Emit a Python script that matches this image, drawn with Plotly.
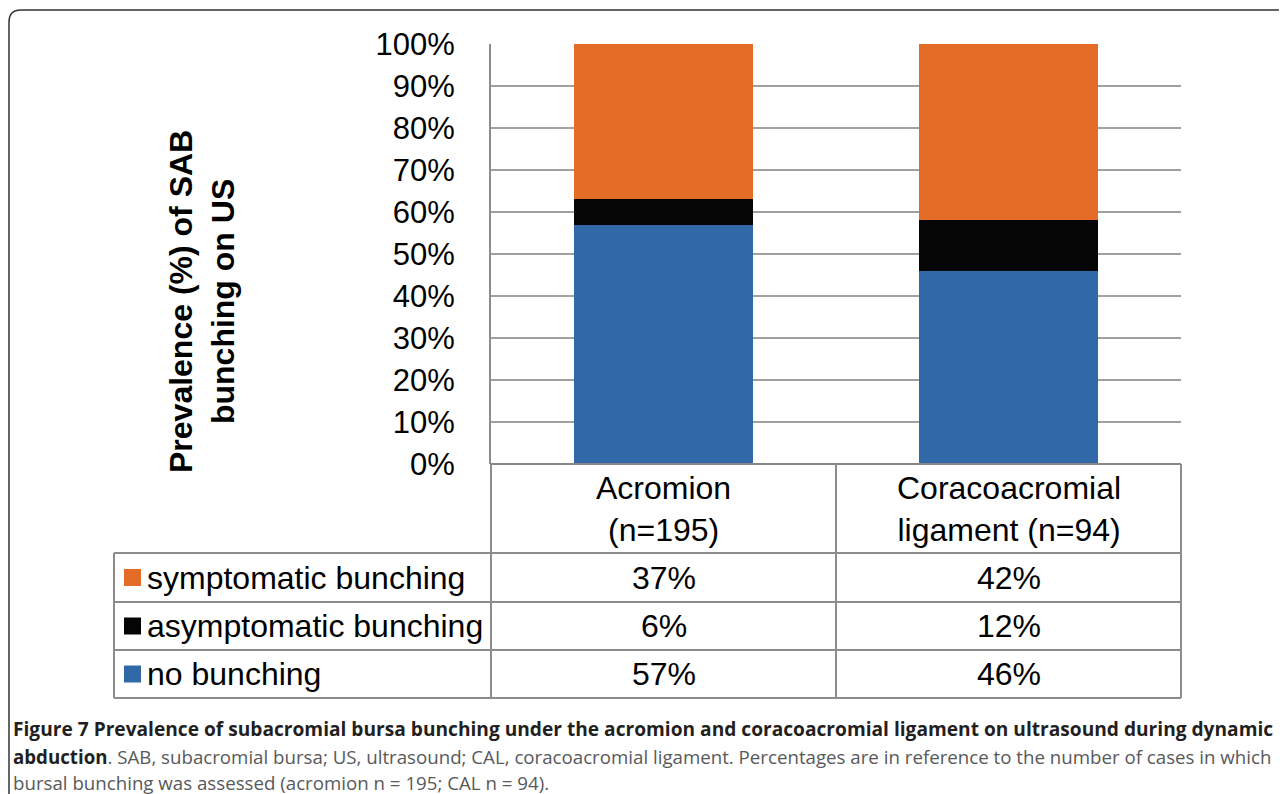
import plotly.graph_objects as go

# ---- data ----
categories = ["Acromion (n=195)", "Coracoacromial ligament (n=94)"]
category_labels = ["Acromion<br>(n=195)", "Coracoacromial<br>ligament (n=94)"]
series_names = ["symptomatic bunching", "asymptomatic bunching", "no bunching"]
symptomatic = [37, 42]
asymptomatic = [6, 12]
no_bunching = [57, 46]
y_ticks = [0, 10, 20, 30, 40, 50, 60, 70, 80, 90, 100]

W, H = 1287, 794
OFF = 8  # page body margin
def px(x):
    return (x - OFF) / W
def py(y):
    return 1 - (y - OFF) / H

FONT = "Liberation Sans, Arial, sans-serif"
CAP_FONT = "Open Sans, sans-serif"
ORANGE = "#E46C27"
BLACK = "#050505"
BLUE = "#3169A8"
GRID = "#A0A0A0"
TABLE = "#8C8C8C"
FS = 32

# plot area in pixels
X0, X1 = 491, 1181
Y_TOP, Y_BOT = 44, 464

fig = go.Figure()
fig.add_trace(go.Bar(x=[0, 1], y=no_bunching, name=series_names[2], marker=dict(color=BLUE, line=dict(width=0)), width=0.516))
fig.add_trace(go.Bar(x=[0, 1], y=asymptomatic, name=series_names[1], marker=dict(color=BLACK, line=dict(width=0)), width=0.516))
fig.add_trace(go.Bar(x=[0, 1], y=symptomatic, name=series_names[0], marker=dict(color=ORANGE, line=dict(width=0)), width=0.516))

fig.update_layout(
    width=W, height=H,
    margin=dict(l=0, r=0, t=0, b=0, pad=0, autoexpand=False),
    paper_bgcolor="white", plot_bgcolor="white",
    barmode="stack", showlegend=False,
    xaxis=dict(domain=[px(X0), px(X1)], range=[-0.5, 1.5], showticklabels=False,
               showgrid=False, zeroline=False, showline=False, ticks="", automargin=False),
    yaxis=dict(domain=[py(Y_BOT), py(Y_TOP)], range=[0, 100], tickvals=y_ticks,
               ticktext=[f"{v}%" for v in y_ticks], ticks="", ticklabelstandoff=28,
               tickfont=dict(family=FONT, size=31, color="black"), automargin=False,
               showgrid=True, gridcolor=GRID, gridwidth=2,
               showline=True, linecolor=TABLE, linewidth=2, zeroline=False),
    font=dict(family=FONT),
)

shapes = []
def hline(y, xa, xb, color=TABLE, w=2):
    shapes.append(dict(type="line", xref="paper", yref="paper", x0=px(xa), x1=px(xb),
                       y0=py(y), y1=py(y), line=dict(color=color, width=w), layer="above"))
def vline(x, ya, yb, color=TABLE, w=2):
    shapes.append(dict(type="line", xref="paper", yref="paper", x0=px(x), x1=px(x),
                       y0=py(ya), y1=py(yb), line=dict(color=color, width=w), layer="above"))

# table grid
hline(Y_BOT, X0, X1, color="#888888")
row_tops = [553, 602, 650, 698]
for y in row_tops:
    hline(y, 114, X1)
vline(114, 553, 698)
vline(X0, Y_BOT, 698)
vline(836, Y_BOT, 698)
vline(X1, Y_BOT, 698)

# legend keys
key_colors = [ORANGE, BLACK, BLUE]
annotations = []
for i, (name, col) in enumerate(zip(series_names, key_colors)):
    yc = (row_tops[i] + row_tops[i + 1]) / 2
    shapes.append(dict(type="rect", xref="paper", yref="paper", x0=px(124), x1=px(141),
                       y0=py(yc + 8.5), y1=py(yc - 8.5), fillcolor=col, line=dict(width=0)))
    annotations.append(dict(xref="paper", yref="paper", x=px(145), y=py(yc), text=name,
                            showarrow=False, xanchor="left", yanchor="middle",
                            font=dict(family=FONT, size=FS, color="black")))

# table values
col_centers = [663.5, 1008.5]
table_rows = [symptomatic, asymptomatic, no_bunching]
for i, vals in enumerate(table_rows):
    yc = (row_tops[i] + row_tops[i + 1]) / 2
    for xc, v in zip(col_centers, vals):
        annotations.append(dict(xref="paper", yref="paper", x=px(xc), y=py(yc), text=f"{v}%",
                                showarrow=False, xanchor="center", yanchor="middle",
                                font=dict(family=FONT, size=FS, color="black")))

# category labels
for xc, lab in zip(col_centers, category_labels):
    annotations.append(dict(xref="paper", yref="paper", x=px(xc), y=py(509), text=lab,
                            showarrow=False, xanchor="center", yanchor="middle",
                            font=dict(family=FONT, size=FS, color="black")))

# y axis title
annotations.append(dict(xref="paper", yref="paper", x=px(202), y=py(302),
                        text="<b>Prevalence (%) of SAB<br>bunching on US</b>", textangle=-90,
                        showarrow=False, xanchor="center", yanchor="middle",
                        font=dict(family=FONT, size=FS, color="black")))

# caption
cap_bold = "#231F20"
cap_norm = "#58595B"
cap_lines = [
    ("<b>Figure 7 Prevalence of subacromial bursa bunching under the acromion and coracoacromial ligament on ultrasound during dynamic</b>", 19.15),
    ("<b>abduction</b><span style='color:%s'>. SAB, subacromial bursa; US, ultrasound; CAL, coracoacromial ligament. Percentages are in reference to the number of cases in which</span>" % cap_norm, 18.7),
    ("<span style='color:%s'>bursal bunching was assessed (acromion n = 195; CAL n = 94).</span>" % cap_norm, 18.7),
]
for y, (t, fs) in zip([729, 756, 782], cap_lines):
    annotations.append(dict(xref="paper", yref="paper", x=px(11), y=py(y), text=t,
                            showarrow=False, xanchor="left", yanchor="middle",
                            font=dict(family=CAP_FONT, size=fs, color=cap_bold)))

# outer rounded frame
l, t, r, b, rad = 9, 10, 1289, 805, 12
path = (f"M {px(l)},{py(b)} L {px(l)},{py(t + rad)} Q {px(l)},{py(t)} {px(l + rad)},{py(t)} "
        f"L {px(r - rad)},{py(t)} Q {px(r)},{py(t)} {px(r)},{py(t + rad)} L {px(r)},{py(b)}")
shapes.append(dict(type="path", xref="paper", yref="paper", path=path,
                   line=dict(color="#333333", width=1.5)))

fig.update_layout(shapes=shapes, annotations=annotations)
fig.write_html("out.html")
